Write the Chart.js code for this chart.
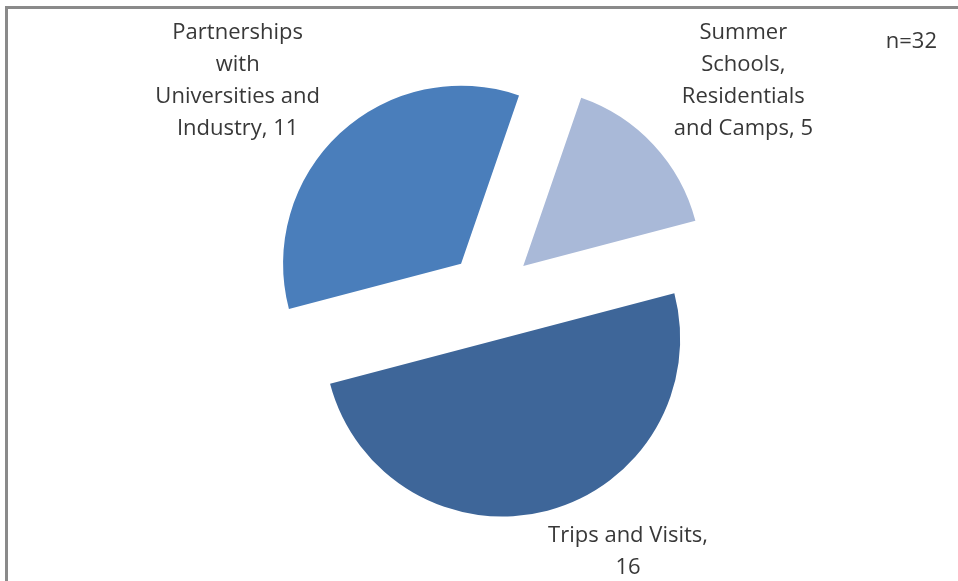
<!DOCTYPE html>
<html>
<head>
<meta charset="utf-8">
<script src="https://cdn.jsdelivr.net/npm/chart.js@4/dist/chart.umd.min.js"></script>
<style>
  html, body { margin: 0; padding: 0; background: #ffffff; }
  #wrap { position: relative; width: 958px; height: 581px; overflow: hidden; background: #ffffff; }
  #frame { position: absolute; left: 5px; top: 6px; width: 1000px; height: 700px;
           border-top: 3px solid #8a8a8a; border-left: 3px solid #8a8a8a; box-sizing: border-box; }
  #c { position: absolute; left: 0; top: 0; }
</style>
</head>
<body>
<div id="wrap">
  <div id="frame"></div>
  <canvas id="c" width="958" height="581"></canvas>
</div>
<script>
// ---- data ----
const categories = [
  'Summer\nSchools,\nResidentials\nand Camps',
  'Trips and Visits',
  'Partnerships\nwith\nUniversities and\nIndustry'
];
const values = [5, 16, 11];
const labelSeparators = [', ', ',\n', ', '];
const sampleNote = 'n=32';
const sliceColors = ['#A9B9D8', '#3E6699', '#4A7EBB'];

// ---- style ----
const LABEL_FONT = '22px "Open Sans", Lato, sans-serif';
const LABEL_LINE = 32;
const TEXT_COLOR = '#383838';
const EXPLODE = 44;

const explodePlugin = {
  id: 'explode',
  afterDatasetUpdate(chart, args) {
    args.meta.data.forEach(arc => {
      const mid = (arc.startAngle + arc.endAngle) / 2;
      arc.x += Math.cos(mid) * EXPLODE;
      arc.y += Math.sin(mid) * EXPLODE;
    });
  }
};

const labelPlugin = {
  id: 'pieLabels',
  afterDatasetsDraw(chart) {
    const ctx = chart.ctx;
    const meta = chart.getDatasetMeta(0);
    const W = chart.width, H = chart.height;
    const PADX = 20, PADY = 8, TOP_MIN = 14, TEXT_DY = 3;
    ctx.save();
    ctx.font = LABEL_FONT;
    ctx.fillStyle = TEXT_COLOR;
    ctx.textAlign = 'center';
    ctx.textBaseline = 'middle';
    meta.data.forEach((arc, i) => {
      const lines = (categories[i] + labelSeparators[i] + values[i]).split('\n');
      const w = Math.max(...lines.map(l => ctx.measureText(l).width));
      const h = lines.length * LABEL_LINE;
      const mid = (arc.startAngle + arc.endAngle) / 2;
      const c = Math.cos(mid), s = Math.sin(mid);
      const px = arc.x + c * arc.outerRadius;
      const py = arc.y + s * arc.outerRadius;
      const fx = Math.min(1, 0.5 + Math.abs(c) * 1.2);
      let cx = px + Math.sign(c) * (w / 2 + PADX) * fx;
      let cy = py + Math.sign(s) * (h / 2 + PADY);
      cx = Math.min(Math.max(cx, w / 2), W - w / 2);
      cy = Math.min(Math.max(cy, TOP_MIN + h / 2), H - h / 2);
      lines.forEach((l, j) => ctx.fillText(l, cx, cy - h / 2 + LABEL_LINE * (j + 0.5) + TEXT_DY));
    });
    ctx.textAlign = 'right';
    ctx.fillText(sampleNote, 937, 42);
    ctx.restore();
  }
};

new Chart(document.getElementById('c'), {
  type: 'pie',
  data: {
    labels: categories.map(c => c.replace(/\n/g, ' ')),
    datasets: [{
      data: values,
      backgroundColor: sliceColors,
      borderWidth: 0,
      offset: 0,
      clip: false
    }]
  },
  options: {
    responsive: false,
    animation: false,
    events: [],
    rotation: 19,
    radius: 178,
    layout: { padding: { top: 11, left: 24, right: 0, bottom: 0 } },
    plugins: {
      legend: { display: false },
      tooltip: { enabled: false },
      title: { display: false }
    }
  },
  plugins: [explodePlugin, labelPlugin]
});
</script>
</body>
</html>
